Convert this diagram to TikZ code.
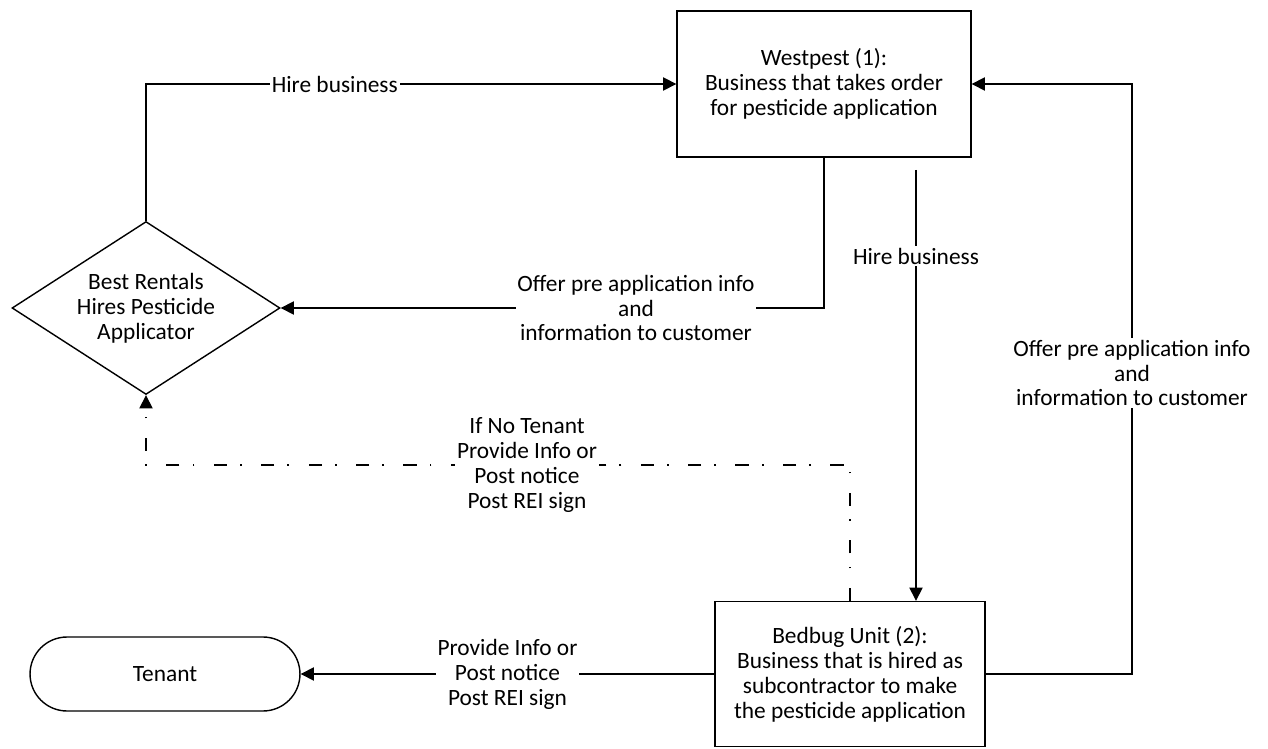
\documentclass[tikz,border=0pt]{standalone}
\usepackage{fontspec}
\setmainfont{Carlito}
\usetikzlibrary{
    arrows.meta,
    calc,
    positioning,
    shapes.geometric
}
\tikzset{
    % Box styles
    party box/.style={
        draw=black,
        line width=0.8pt,
        rectangle,
        align=center,
        font=\fontsize{13.3}{14.2}\selectfont
    },
    decision box/.style={
        draw=black,
        line width=0.8pt,
        diamond,
        aspect=1.55,
        inner sep=0pt,
        minimum width=5.36cm,
        minimum height=3.46cm,
        align=center,
        font=\fontsize{13.3}{14.2}\selectfont
    },
    end box/.style={
        draw=black,
        line width=0.8pt,
        rectangle,
        rounded corners=0.74cm,
        minimum width=5.4cm,
        minimum height=1.48cm,
        align=center,
        font=\fontsize{13.3}{14.2}\selectfont
    },
    % Arrow styles
    flow arrow/.style={
        -{Triangle[length=7.5pt,width=7.5pt]},
        line width=0.8pt,
        black
    },
    notice flow/.style={
        flow arrow,
        dash pattern=on 7.5pt off 11pt on 1pt off 7.5pt
    },
    % Label style
    flow label/.style={
        fill=white,
        inner sep=1pt,
        align=center,
        font=\fontsize{13.3}{14.2}\selectfont
    }
}
\begin{document}
\begin{tikzpicture}[x=0.02cm,y=-0.02cm]
    \useasboundingbox (0,0) rectangle (1268,749);
    % parties
    \node[party box, minimum width=5.88cm, minimum height=2.92cm] (westpest) at (824,84)
        {Westpest (1):\\Business that takes order\\for pesticide application};
    \node[decision box] (rentals) at (146,308)
        {Best Rentals\\Hires Pesticide\\Applicator};
    \node[party box, minimum width=5.4cm, minimum height=2.9cm] (bedbug) at (850,674)
        {Bedbug Unit (2):\\Business that is hired as\\subcontractor to make\\the pesticide application};
    \node[end box] (tenant) at (165,674) {Tenant};
    % helper points
    \coordinate (hire start) at (916,170);
    \coordinate (offer turn) at (1132,373);
    \coordinate (notice turn) at (527,465);
    % connectors
    \draw[flow arrow] (rentals.north) |- (westpest.west)
        node[flow label, pos=0.678] {Hire business};
    \draw[flow arrow] (westpest.south) |- (rentals.east)
        node[flow label, pos=0.673] {Offer pre application info\\and\\information to customer};
    \draw[flow arrow] (hire start) -- (hire start |- bedbug.north)
        node[flow label, pos=0.2] {Hire business};
    \draw[flow arrow] (bedbug.east) -| (offer turn)
        node[flow label] {Offer pre application info\\and\\information to customer}
        |- (westpest.east);
    \draw[notice flow] (bedbug.north) |- (notice turn)
        node[flow label] {If No Tenant\\Provide Info or\\Post notice\\Post REI sign}
        -| (rentals.south);
    \draw[flow arrow] (bedbug.west) -- (tenant.east)
        node[flow label, midway] {Provide Info or\\Post notice\\Post REI sign};
\end{tikzpicture}
\end{document}
